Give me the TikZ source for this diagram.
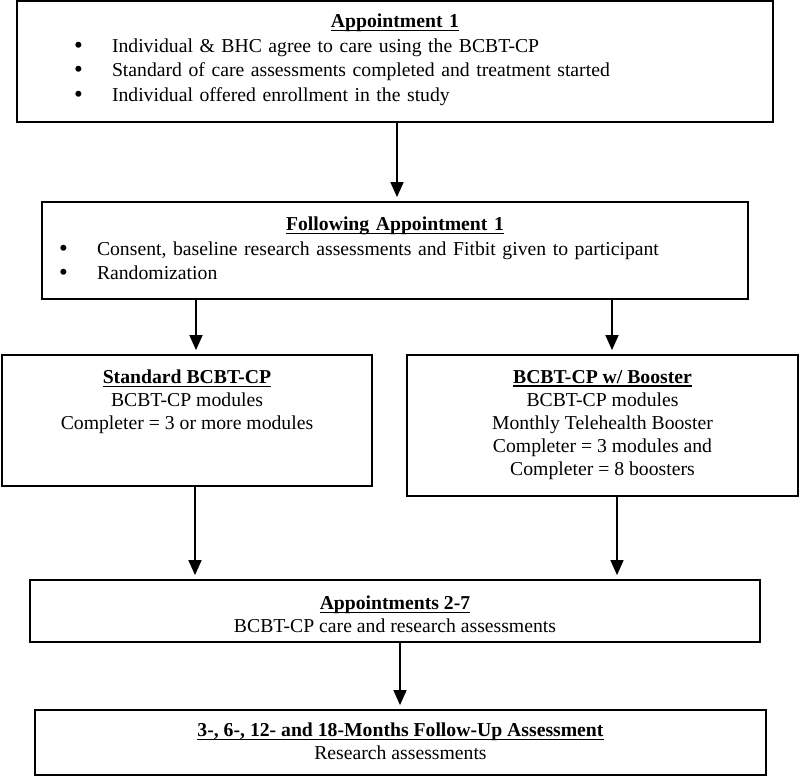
\documentclass[tikz,border=0pt]{standalone}
\usepackage{fontspec}
\setmainfont{Liberation Serif}
\usetikzlibrary{arrows.meta}

% bold heading with a close underline
\newcommand{\head}[1]{\setbox0\hbox{\bfseries #1}\rlap{\vrule height -2.2pt depth 3.6pt width \wd0}\box0}
\newcommand{\bul}{\makebox[38pt][l]{\smash{\raisebox{-1pt}{\fontsize{25}{24}\selectfont\textbullet}}}}

\tikzset{
  stage/.style={draw, line width=1.8pt, inner sep=0pt},
  txt/.style={inner sep=0pt, anchor=north, font=\fontsize{19.7}{23}\selectfont},
  list/.style={txt, font=\fontsize{19.7}{24.5}\selectfont},
  link/.style={-{Triangle[width=13pt,length=15pt]}, line width=1.6pt, shorten >=4pt},
}

\begin{document}
\begin{tikzpicture}[x=1pt,y=-1pt]
  \useasboundingbox (0,0) rectangle (800,776);

  \node[stage, minimum width=756pt, minimum height=121pt] (app1) at (395,61.5) {};
  \node[stage, minimum width=706pt, minimum height=97pt] (follow) at (395,250.5) {};
  \node[stage, minimum width=370pt, minimum height=131pt] (std) at (187,420.5) {};
  \node[stage, minimum width=391pt, minimum height=141pt] (boost) at (602.5,425.5) {};
  \node[stage, minimum width=730pt, minimum height=62pt] (app27) at (395,611) {};
  \node[stage, minimum width=731pt, minimum height=65pt] (fup) at (400.5,742.5) {};

  \node[list, text width=756pt] (app1txt) at (395,14) {\parindent=0pt\centering\head{Appointment 1}\par
    \raggedright\leftskip=57pt
    \bul Individual \& BHC agree to care using the BCBT-CP\par
    \bul Standard of care assessments completed and treatment started\par
    \bul Individual offered enrollment in the study\par};
  \node[list, text width=706pt] (followtxt) at (395,217) {\parindent=0pt\centering\head{Following Appointment 1}\par
    \raggedright\leftskip=17pt
    \bul Consent, baseline research assessments and Fitbit given to participant\par
    \bul Randomization\par};
  \node[txt, align=center] (stdtxt) at (187,370) {\head{Standard BCBT-CP}\\ BCBT-CP modules\\ Completer = 3 or more modules};
  \node[txt, align=center] (boosttxt) at (602.5,370) {\head{BCBT-CP w/ Booster}\\ BCBT-CP modules\\ Monthly Telehealth Booster\\ Completer = 3 modules and\\ Completer = 8 boosters};
  \node[txt, align=center] (app27txt) at (395,596) {\head{Appointments 2-7}\\ BCBT-CP care and research assessments};
  \node[txt, align=center] (fuptxt) at (400.5,723) {\head{3-, 6-, 12- and 18-Months Follow-Up Assessment}\\ Research assessments};

  \draw[link] ([xshift=2pt]app1.south) to ([xshift=2pt]follow.north);
  \draw[link] ([xshift=9pt]std.north |- follow.south) to ([xshift=9pt]std.north);
  \draw[link] ([xshift=9.5pt]boost.north |- follow.south) to ([xshift=9.5pt]boost.north);
  \draw[link] ([xshift=8pt]std.south) to ([xshift=8pt]std.south |- app27.north);
  \draw[link] ([xshift=14.5pt]boost.south) to ([xshift=14.5pt]boost.south |- app27.north);
  \draw[link] ([xshift=5pt]app27.south) to ([xshift=5pt]app27.south |- fup.north);
\end{tikzpicture}
\end{document}
